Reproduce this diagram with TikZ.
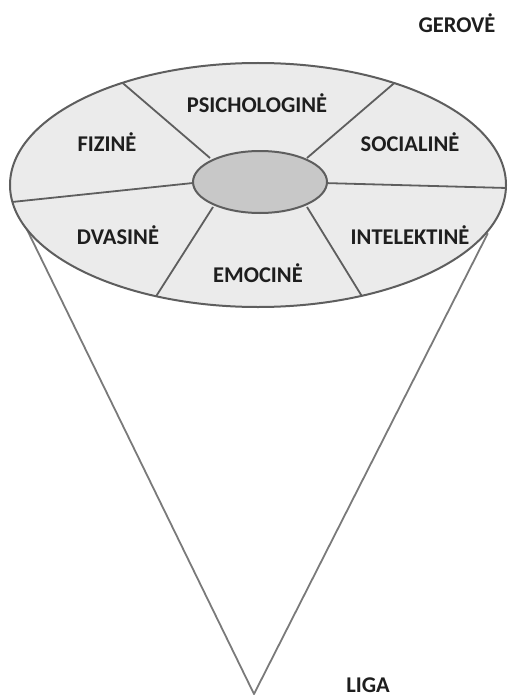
\documentclass[tikz,border=0pt]{standalone}
\usepackage{fontspec}
\setmainfont{Carlito}
\usetikzlibrary{calc}
\definecolor{diskfill}{HTML}{EBEBEB}
\definecolor{hubfill}{HTML}{C8C8C8}
\definecolor{linegray}{HTML}{5E5E5E}
\definecolor{conegray}{HTML}{7A7A7A}
\definecolor{txt}{HTML}{1E1E1E}
\tikzset{
  rim/.style={draw=linegray, line width=2pt},
  spoke/.style={draw=linegray, line width=1.8pt},
  conel/.style={draw=conegray, line width=1.8pt},
  lbl/.style={font=\fontsize{22.5}{26}\selectfont\bfseries, text=txt, inner sep=0pt},
}
\begin{document}
\begin{tikzpicture}[x=1pt,y=-1pt]
\useasboundingbox (0,0) rectangle (508,698);
% cone
\coordinate (apex) at (254,694);
\coordinate (cl) at (14,203);
\coordinate (cr) at (490,229);
\draw[conel, line cap=round] (apex) -- ($(apex)!0.99!(cl)$);
\draw[conel, line cap=round] (apex) -- ($(apex)!0.99!(cr)$);
% disk
\coordinate (c) at (258,185);
\fill[diskfill] (c) ellipse [x radius=248pt, y radius=122pt];
\begin{scope}
\clip (c) ellipse [x radius=248pt, y radius=122pt];
\coordinate (s1a) at (210,158); \coordinate (s1b) at (125,85);
\coordinate (s2a) at (307,158); \coordinate (s2b) at (392,85);
\coordinate (s3a) at (323,183); \coordinate (s3b) at (507,188);
\coordinate (s4a) at (193,183); \coordinate (s4b) at (12,202);
\coordinate (s5a) at (213,207); \coordinate (s5b) at (155,298);
\coordinate (s6a) at (307,207); \coordinate (s6b) at (363,298);
\foreach \i in {1,...,6}{
  \draw[spoke] (s\i a) -- ($(s\i a)!1.2!(s\i b)$);
}
\end{scope}
\draw[rim] (c) ellipse [x radius=248pt, y radius=122pt];
% hub
\draw[rim, fill=hubfill] (260,182) ellipse [x radius=67pt, y radius=31pt];
% labels
\node[lbl] (psi) at (257,103) {PSICHOLOGINĖ};
\node[lbl] (fiz) at (107,142) {FIZINĖ};
\node[lbl] (soc) at (410,142) {SOCIALINĖ};
\node[lbl] (dva) at (118,235) {DVASINĖ};
\node[lbl] (int) at (410,235) {INTELEKTINĖ};
\node[lbl] (emo) at (258,273) {EMOCINĖ};
\node[lbl] (ger) at (457,23) {GEROVĖ};
\node[lbl] (liga) at (368,685) {LIGA};
\end{tikzpicture}
\end{document}
